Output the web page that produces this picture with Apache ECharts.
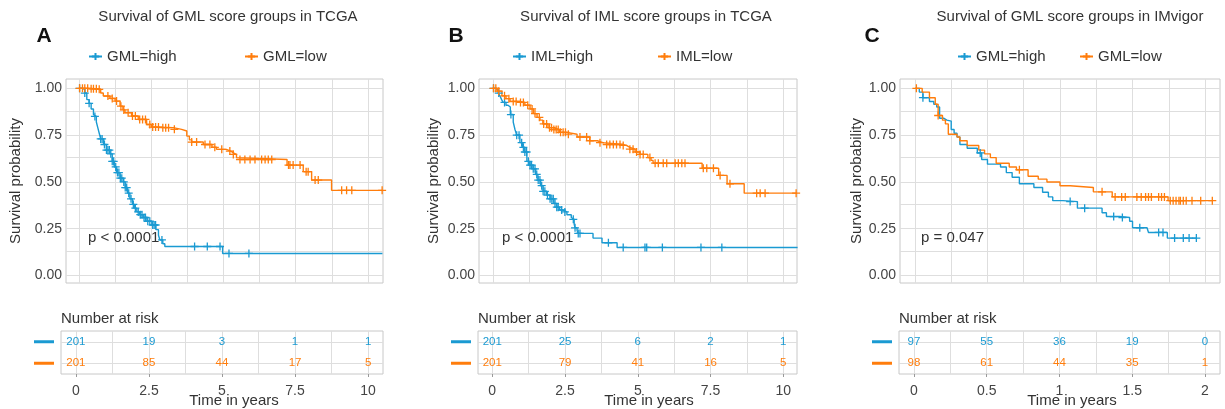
<!DOCTYPE html>
<html><head><meta charset="utf-8">
<script src="https://cdn.jsdelivr.net/npm/echarts@6/dist/echarts.min.js"></script>
<style>html,body{margin:0;padding:0;background:#fff}#c{width:1225px;height:409px}</style>
</head><body><div id="c"></div><script>
// ---------- DATA ----------
const panelTitles = ['Survival of GML score groups in TCGA', 'Survival of IML score groups in TCGA', 'Survival of GML score groups in IMvigor'];
const panelLetters = ['A', 'B', 'C'];
const legendA = ['GML=high', 'GML=low'];
const legendB = ['IML=high', 'IML=low'];
const legendC = ['GML=high', 'GML=low'];
const pValues = ['p < 0.0001', 'p < 0.0001', 'p = 0.047'];
const yAxisTitle = 'Survival probability';
const xAxisTitle = 'Time in years';
const riskTitle = 'Number at risk';

const survTicks = [0, 0.25, 0.5, 0.75, 1];
const survMinor = [0.125, 0.375, 0.625, 0.875];
const timeTicksTCGA = [0, 2.5, 5, 7.5, 10];
const timeMinorTCGA = [1.25, 3.75, 6.25, 8.75];
const timeTicksIMvigor = [0, 0.5, 1, 1.5, 2];
const timeMinorIMvigor = [0.25, 0.75, 1.25, 1.75];
const riskRows = ['low', 'high'];

// KM step points [time, survival after event]
const survA_high = [[0,1],[0.1,0.995],[0.2,0.975],[0.27,0.94],[0.35,0.92],[0.42,0.89],[0.5,0.86],[0.55,0.85],[0.6,0.82],[0.65,0.79],[0.7,0.76],[0.75,0.73],[0.85,0.70],[0.95,0.67],[1.07,0.65],[1.15,0.61],[1.22,0.58],[1.3,0.55],[1.42,0.52],[1.53,0.50],[1.6,0.47],[1.68,0.44],[1.76,0.41],[1.85,0.38],[1.92,0.36],[2.0,0.34],[2.1,0.325],[2.22,0.31],[2.35,0.29],[2.52,0.27],[2.66,0.245],[2.75,0.215],[2.8,0.19],[2.9,0.17],[2.97,0.155],[4.97,0.118],[10.5,0.118]];
const survA_low = [[0,1],[0.38,0.998],[0.61,0.995],[0.75,0.975],[0.84,0.959],[1.07,0.946],[1.25,0.932],[1.42,0.905],[1.52,0.885],[1.59,0.87],[1.82,0.852],[2.05,0.834],[2.34,0.807],[2.51,0.793],[2.8,0.79],[3.26,0.781],[3.55,0.772],[3.73,0.745],[3.82,0.725],[3.9,0.713],[4.3,0.70],[4.6,0.685],[4.76,0.674],[5.1,0.665],[5.25,0.655],[5.34,0.647],[5.45,0.63],[5.5,0.62],[7.2,0.59],[7.76,0.555],[8.05,0.51],[8.74,0.455],[10.5,0.455]];
const censA_high = [0.02,0.2,0.35,0.55,0.75,0.8,0.88,0.95,1.0,1.05,1.1,1.15,1.2,1.27,1.33,1.38,1.43,1.48,1.55,1.6,1.65,1.72,1.8,1.88,1.95,2.05,2.12,2.18,2.25,2.3,2.38,2.45,2.55,2.6,2.65,2.87,4.0,4.44,4.88,5.19,5.88];
const censA_low = [0.02,0.12,0.2,0.3,0.42,0.5,0.6,0.7,1.0,1.15,1.3,1.45,1.55,1.7,1.85,1.95,2.1,2.2,2.3,2.45,2.55,2.65,2.75,2.9,3.0,3.1,3.3,3.9,4.07,4.36,4.53,4.7,4.94,5.22,5.34,5.57,5.74,5.92,6.09,6.32,6.44,6.55,6.67,7.25,7.3,7.41,7.65,7.86,7.93,8.17,8.28,9.09,9.26,9.44,10.49];

const survB_high = [[0,1],[0.1,0.99],[0.18,0.975],[0.24,0.96],[0.3,0.94],[0.35,0.925],[0.45,0.91],[0.52,0.90],[0.6,0.86],[0.7,0.82],[0.76,0.78],[0.82,0.75],[0.93,0.71],[1.02,0.685],[1.1,0.66],[1.17,0.61],[1.27,0.59],[1.38,0.57],[1.47,0.54],[1.55,0.51],[1.64,0.48],[1.73,0.45],[1.85,0.43],[1.97,0.41],[2.1,0.385],[2.2,0.365],[2.3,0.35],[2.41,0.34],[2.55,0.325],[2.7,0.31],[2.76,0.30],[2.8,0.275],[2.83,0.255],[2.9,0.24],[2.94,0.225],[3.45,0.20],[3.76,0.175],[4.28,0.15],[10.5,0.15]];
const survB_low = [[0,1],[0.15,0.985],[0.31,0.96],[0.45,0.945],[0.59,0.93],[0.93,0.925],[1.1,0.91],[1.28,0.89],[1.4,0.865],[1.52,0.845],[1.62,0.83],[1.72,0.81],[1.9,0.79],[2.07,0.78],[2.3,0.765],[2.55,0.755],[2.9,0.74],[3.34,0.72],[3.6,0.71],[3.79,0.70],[4.48,0.695],[4.6,0.685],[4.72,0.675],[4.9,0.66],[5.07,0.647],[5.34,0.63],[5.45,0.615],[5.52,0.60],[7.21,0.573],[7.78,0.535],[8.07,0.49],[8.66,0.44],[10.48,0.44]];
const censB_high = [0.02,0.2,0.4,0.62,0.82,0.9,0.99,1.05,1.1,1.16,1.22,1.28,1.33,1.39,1.45,1.51,1.56,1.62,1.68,1.73,1.79,1.88,1.97,2.03,2.08,2.14,2.2,2.25,2.37,2.48,2.77,2.83,2.94,3.0,3.98,4.49,5.24,5.3,5.84,7.17,7.89];
const censB_low = [0.02,0.1,0.2,0.4,0.55,0.7,0.8,0.95,1.05,1.2,1.35,1.45,1.6,1.75,1.85,1.95,2.02,2.1,2.18,2.25,2.33,2.42,2.5,2.6,3.0,3.23,3.34,3.69,3.92,4.03,4.15,4.26,4.38,4.49,4.72,4.83,4.95,5.07,5.18,5.41,5.59,5.7,5.87,5.99,6.28,6.39,6.51,6.62,7.25,7.37,7.6,7.83,8.17,9.09,9.21,9.38,10.45];

const survC_high = [[0,1],[0.03,0.98],[0.055,0.95],[0.1,0.93],[0.13,0.915],[0.15,0.90],[0.17,0.84],[0.2,0.83],[0.22,0.825],[0.25,0.78],[0.27,0.76],[0.29,0.74],[0.31,0.70],[0.36,0.68],[0.43,0.655],[0.46,0.62],[0.5,0.595],[0.59,0.58],[0.63,0.55],[0.67,0.525],[0.72,0.49],[0.82,0.47],[0.88,0.445],[0.92,0.42],[0.95,0.40],[1.02,0.395],[1.12,0.36],[1.29,0.335],[1.32,0.315],[1.41,0.31],[1.48,0.29],[1.5,0.255],[1.6,0.245],[1.61,0.23],[1.74,0.20],[1.94,0.20]];
const survC_low = [[0,1],[0.05,0.98],[0.1,0.95],[0.14,0.915],[0.16,0.855],[0.19,0.83],[0.21,0.81],[0.23,0.755],[0.29,0.74],[0.31,0.72],[0.36,0.695],[0.44,0.67],[0.48,0.65],[0.52,0.63],[0.56,0.60],[0.65,0.58],[0.7,0.565],[0.78,0.53],[0.85,0.515],[0.91,0.50],[1.0,0.48],[1.07,0.47],[1.23,0.447],[1.36,0.42],[1.745,0.40],[2.05,0.40]];
const censC_high = [0.055,0.45,1.07,1.17,1.37,1.43,1.55,1.68,1.71,1.79,1.85,1.89,1.94];
const censC_low = [0.01,0.16,0.72,1.29,1.38,1.425,1.45,1.53,1.56,1.59,1.61,1.63,1.68,1.7,1.72,1.76,1.78,1.8,1.82,1.83,1.85,1.87,1.91,1.97,2.05];

const riskA_high = [201, 19, 3, 1, 1];
const riskA_low = [201, 85, 44, 17, 5];
const riskB_high = [201, 25, 6, 2, 1];
const riskB_low = [201, 79, 41, 16, 5];
const riskC_high = [97, 55, 36, 19, 0];
const riskC_low = [98, 61, 44, 35, 1];

// ---------- STYLE / LAYOUT ----------
const BLUE = '#1a9ad2', ORANGE = '#ff7d0c';
const GRID_C = '#dedede', BORDER_C = '#c8c8c8';
const FONT = '"Liberation Sans", Arial, sans-serif';
const crossPath = 'path://M0,5L10,5M5,0L5,10';

const panels = [
  {title: panelTitles[0], letter: panelLetters[0], names: legendA, high: survA_high, low: survA_low, cHigh: censA_high, cLow: censA_low, rHigh: riskA_high, rLow: riskA_low, ticks: timeTicksTCGA, minor: timeMinorTCGA, p: pValues[0],
   plot: {left: 66, top: 79, width: 317, height: 204}, xr: [-0.45, 10.52], table: {left: 61, top: 331, width: 322, height: 43}, tr: [-0.51, 10.51],
   titleX: 228, letterX: 44, legX: [88, 244], yNameX: 16, pX: 88, timeX: 234},
  {title: panelTitles[1], letter: panelLetters[1], names: legendB, high: survB_high, low: survB_low, cHigh: censB_high, cLow: censB_low, rHigh: riskB_high, rLow: riskB_low, ticks: timeTicksTCGA, minor: timeMinorTCGA, p: pValues[1],
   plot: {left: 479, top: 79, width: 318, height: 204}, xr: [-0.48, 10.48], table: {left: 478, top: 331, width: 319, height: 43}, tr: [-0.49, 10.47],
   titleX: 646, letterX: 456, legX: [512, 657], yNameX: 434, pX: 502, timeX: 649},
  {title: panelTitles[2], letter: panelLetters[2], names: legendC, high: survC_high, low: survC_low, cHigh: censC_high, cLow: censC_low, rHigh: riskC_high, rLow: riskC_low, ticks: timeTicksIMvigor, minor: timeMinorIMvigor, p: pValues[2],
   plot: {left: 900, top: 79, width: 320, height: 204}, xr: [-0.103, 2.103], table: {left: 899, top: 331, width: 321, height: 43}, tr: [-0.103, 2.103],
   titleX: 1070, letterX: 872, legX: [957, 1079], yNameX: 857, pX: 921, timeX: 1072}
];

function survAt(steps, t) {
  let s = steps[0][1];
  for (const st of steps) { if (st[0] <= t) s = st[1]; else break; }
  return s;
}
function fmtTime(v) { return String(v); }

const grids = [], xAxes = [], yAxes = [], series = [], legends = [], graphics = [];

panels.forEach((p, i) => {
  const gP = i * 2, gT = i * 2 + 1;
  grids.push(Object.assign({show: true, borderColor: BORDER_C, borderWidth: 1, backgroundColor: '#fff', containLabel: false}, p.plot));
  grids.push(Object.assign({show: true, borderColor: BORDER_C, borderWidth: 1, backgroundColor: '#fff', containLabel: false}, p.table));

  xAxes.push({gridIndex: gP, type: 'value', min: p.xr[0], max: p.xr[1], splitLine: {show: false},
    axisLine: {show: false}, axisLabel: {show: false, customValues: p.ticks},
    axisTick: {show: true, length: 4, lineStyle: {color: '#333'}, customValues: p.ticks}});
  yAxes.push({gridIndex: gP, type: 'value', min: -0.04, max: 1.05, splitLine: {show: false},
    axisLine: {show: false},
    axisTick: {show: true, length: 4, lineStyle: {color: '#333'}, customValues: survTicks},
    axisLabel: {show: true, customValues: survTicks, margin: 4, fontSize: 14, color: '#444', fontFamily: FONT, formatter: v => v.toFixed(2)}});

  xAxes.push({gridIndex: gT, type: 'value', min: p.tr[0], max: p.tr[1], splitLine: {show: false},
    axisLine: {show: false},
    axisTick: {show: true, length: 3, lineStyle: {color: '#999'}, customValues: p.ticks},
    axisLabel: {show: true, customValues: p.ticks, margin: 10, fontSize: 14, color: '#444', fontFamily: FONT, formatter: fmtTime}});
  yAxes.push({gridIndex: gT, type: 'category', data: riskRows, splitLine: {show: false},
    axisLine: {show: false}, axisTick: {show: false},
    axisLabel: {show: true, margin: 7, formatter: v => v === 'high' ? '{h|}' : '{l|}',
      rich: {h: {width: 20, height: 3, backgroundColor: BLUE}, l: {width: 20, height: 3, backgroundColor: ORANGE}}}});

  const gridLineStyle = {color: GRID_C, width: 1, type: 'solid'};
  series.push({type: 'line', data: [], xAxisIndex: gP, yAxisIndex: gP, silent: true, z: 1,
    markLine: {silent: true, symbol: ['none', 'none'], label: {show: false}, lineStyle: gridLineStyle, animation: false, z: 1,
      data: p.ticks.concat(p.minor).map(v => ({xAxis: v})).concat(survTicks.concat(survMinor).map(v => ({yAxis: v})))}});
  series.push({type: 'line', data: [], xAxisIndex: gT, yAxisIndex: gT, silent: true, z: 1,
    markLine: {silent: true, symbol: ['none', 'none'], label: {show: false}, lineStyle: gridLineStyle, animation: false, z: 1,
      data: p.ticks.concat(p.minor).map(v => ({xAxis: v})).concat(riskRows.map(v => ({yAxis: v})))}});

  [['high', p.high, p.cHigh, p.rHigh, BLUE, p.names[0]], ['low', p.low, p.cLow, p.rLow, ORANGE, p.names[1]]].forEach(([key, steps, cens, risk, col, nm]) => {
    series.push({type: 'line', name: nm, xAxisIndex: gP, yAxisIndex: gP, step: 'end', data: steps,
      showSymbol: false, symbol: crossPath, symbolSize: 7, z: 3,
      lineStyle: {color: col, width: 1.4}, itemStyle: {color: col, borderColor: col, borderWidth: 1.3}});
    series.push({type: 'scatter', name: p.letter + '-' + key + '-censor', xAxisIndex: gP, yAxisIndex: gP, z: 4,
      symbol: crossPath, symbolSize: 8,
      itemStyle: {color: 'rgba(0,0,0,0)', borderColor: col, borderWidth: 1.3, opacity: 1},
      data: cens.map(t => [t, survAt(steps, t)])});
    series.push({type: 'scatter', name: p.letter + '-' + key + '-risk', xAxisIndex: gT, yAxisIndex: gT, z: 5,
      symbolSize: 1, itemStyle: {color: 'rgba(0,0,0,0)', opacity: 1},
      label: {show: true, position: 'inside', formatter: q => String(q.data[2]), color: col, opacity: 1, fontSize: 11.5, fontFamily: FONT},
      data: risk.map((n, k) => [p.ticks[k], key, n])});
  });

  p.names.forEach((nm, k) => {
    legends.push({data: [nm], left: p.legX[k], top: 49, padding: 0, itemWidth: 13, itemHeight: 9, itemGap: 0,
      selectedMode: false, textStyle: {fontSize: 15, color: '#333', fontFamily: FONT}});
  });

  const txt = (x, y, text, font, extra) => Object.assign({type: 'text', x: x, y: y, silent: true,
    style: {text: text, font: font, fill: '#333', align: 'center', verticalAlign: 'middle'}}, extra || {});
  graphics.push(txt(p.titleX, 17, p.title, '15px ' + FONT));
  graphics.push(txt(p.letterX, 36, p.letter, 'bold 21px ' + FONT, {style: {text: p.letter, font: 'bold 21px ' + FONT, fill: '#111', align: 'center', verticalAlign: 'middle'}}));
  graphics.push(txt(p.yNameX, 181, yAxisTitle, '15px ' + FONT, {rotation: Math.PI / 2}));
  graphics.push({type: 'text', x: p.pX, y: 238, silent: true, z: 10, style: {text: p.p, font: '15px ' + FONT, fill: '#333', align: 'left', verticalAlign: 'middle'}});
  graphics.push({type: 'text', x: p.table.left, y: 319, silent: true, style: {text: riskTitle, font: '15px ' + FONT, fill: '#333', align: 'left', verticalAlign: 'middle'}});
  graphics.push(txt(p.timeX, 401, xAxisTitle, '15px ' + FONT));
});

const chart = echarts.init(document.getElementById('c'), null, {renderer: 'canvas'});
chart.setOption({
  animation: false,
  backgroundColor: '#fff',
  textStyle: {fontFamily: FONT},
  grid: grids, xAxis: xAxes, yAxis: yAxes, series: series, legend: legends, graphic: graphics
});
</script></body></html>
